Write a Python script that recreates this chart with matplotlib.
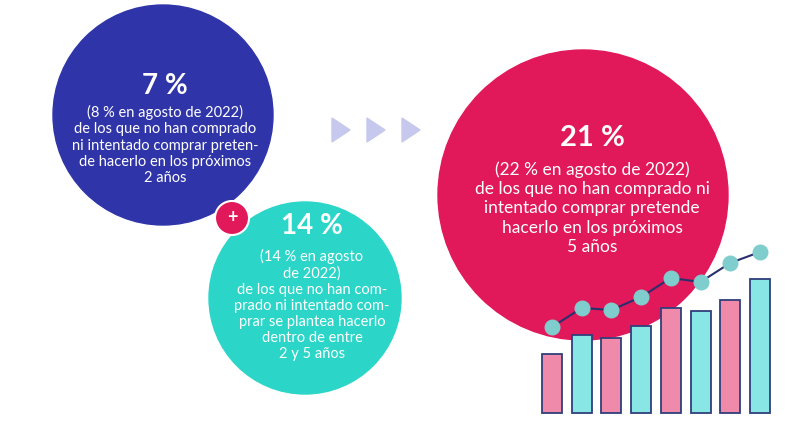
import matplotlib
matplotlib.use('Agg')
import matplotlib.pyplot as plt
from matplotlib.patches import Circle, Polygon, Rectangle

plt.rcParams['font.family'] = ['Lato', 'DejaVu Sans']

# datos de la mini gráfica (alturas en px)
barras = [59, 78, 75, 87, 105, 102, 113, 134]
puntos = [86, 105, 103, 116, 135, 131, 150, 161]
colores_barra = ['#f08aab', '#88e6e4'] * 4

fig = plt.figure(figsize=(8, 4.36), dpi=100)
ax = fig.add_axes([0, 0, 1, 1])
ax.set_xlim(0, 800)
ax.set_ylim(436, 0)
ax.axis('off')

ax.add_patch(Circle((163, 115), 110, color='#2f35a8'))
ax.add_patch(Circle((305, 298), 96, color='#2bd6c9'))
ax.add_patch(Circle((583, 195), 145, color='#e1185a'))
ax.add_patch(Circle((232, 218), 17, color='#e1185a', ec='white', lw=1.5))
ax.text(232, 217, '+', color='white', ha='center', va='center', fontsize=13, fontweight='bold')

for x in [340, 375, 410]:
    ax.add_patch(Polygon([(x - 8, 118), (x - 8, 142), (x + 10, 130)], color='#c6c8ee'))

# bloques de texto
ax.text(165, 86, '7 %', color='white', ha='center', va='center', fontsize=20, fontweight='bold')
ax.text(165, 145, '(8 % en agosto de 2022)\nde los que no han comprado\nni intentado comprar preten-\nde hacerlo en los próximos\n2 años',
        color='white', ha='center', va='center', fontsize=10.5, linespacing=1.2)
ax.text(312, 226, '14 %', color='white', ha='center', va='center', fontsize=20, fontweight='bold')
ax.text(312, 305, '(14 % en agosto\nde 2022)\nde los que no han com-\nprado ni intentado com-\nprar se plantea hacerlo\ndentro de entre\n2 y 5 años',
        color='white', ha='center', va='center', fontsize=10.5, linespacing=1.2)
ax.text(592, 138, '21 %', color='white', ha='center', va='center', fontsize=21, fontweight='bold')
ax.text(592, 208, '(22 % en agosto de 2022)\nde los que no han comprado ni\nintentado comprar pretende\nhacerlo en los próximos\n5 años',
        color='white', ha='center', va='center', fontsize=12.5, linespacing=1.25)

# mini gráfica de barras y línea
base = 413
xs = [552 + i * 29.7 for i in range(len(barras))]
for x, h, c in zip(xs, barras, colores_barra):
    ax.add_patch(Rectangle((x - 10, base - h), 20, h, fc=c, ec='#2f3f7a', lw=1.3))
ys = [base - p for p in puntos]
ax.plot(xs, ys, color='#2a2f6e', lw=1.5, zorder=3)
ax.scatter(xs, ys, s=110, color='#7fcdcd', zorder=4)

fig.savefig('out.png', dpi=100)
